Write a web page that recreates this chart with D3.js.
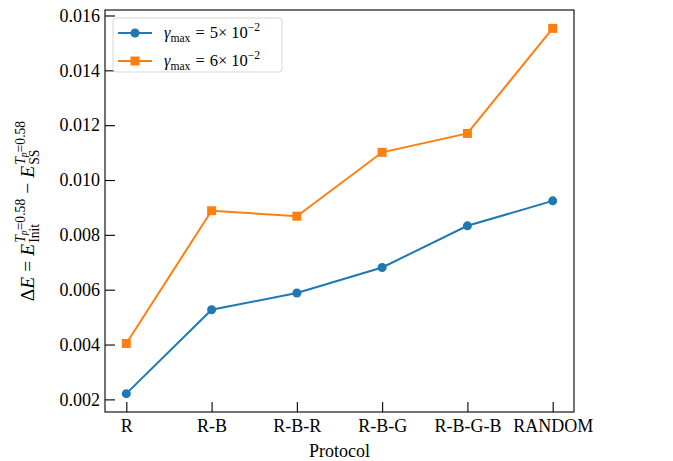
<!DOCTYPE html>
<html>
<head>
<meta charset="utf-8">
<script src="https://cdn.jsdelivr.net/npm/d3@7"></script>
<style>
  body { margin: 0; background: #fff; }
  svg { display: block; }
  text { font-family: "Liberation Serif", "DejaVu Serif", serif; fill: #000; }
</style>
</head>
<body>
<div id="graph"></div>
<script>
var protocols = ['R', 'R-B', 'R-B-R', 'R-B-G', 'R-B-G-B', 'RANDOM']
var gamma5 = [0.00221, 0.00527, 0.00588, 0.00681, 0.00833, 0.00924]
var gamma6 = [0.00404, 0.00888, 0.00868, 0.01101, 0.01170, 0.01553]
var yTicks = [0.002, 0.004, 0.006, 0.008, 0.010, 0.012, 0.014, 0.016]

var w = 673
var h = 461
var plotL = 105, plotR = 574, plotT = 10, plotB = 412
var fontSize = 18

var svg = d3.select('#graph')
	.append('svg')
	.attr('width', w)
	.attr('height', h)

var xScale = d3.scalePoint()
	.domain(protocols)
	.range([plotL, plotR])
	.padding(0.25)

var yScale = d3.scaleLinear()
	.domain([0.00154, 0.01620])
	.range([plotB, plotT])

// axes, ticks pointing inward
var xAxis = d3.axisBottom(xScale)
	.tickSizeInner(-10)
	.tickSizeOuter(0)
	.tickPadding(7)

var yAxis = d3.axisLeft(yScale)
	.tickValues(yTicks)
	.tickFormat(d3.format('.3f'))
	.tickSizeInner(-10)
	.tickSizeOuter(0)
	.tickPadding(5)

var gx = svg.append('g')
	.attr('transform', 'translate(0,' + plotB + ')')
	.call(xAxis)
var gy = svg.append('g')
	.attr('transform', 'translate(' + plotL + ',0)')
	.call(yAxis)

svg.selectAll('.domain').remove()
svg.selectAll('.tick line').attr('stroke', '#000').attr('stroke-width', 1.1)
svg.selectAll('.tick text')
	.style('font-family', '"Liberation Serif", serif')
	.style('font-size', fontSize + 'px')
	.attr('fill', '#000')

// frame
svg.append('rect')
	.attr('x', plotL)
	.attr('y', plotT)
	.attr('width', plotR - plotL)
	.attr('height', plotB - plotT)
	.attr('fill', 'none')
	.attr('stroke', '#000')
	.attr('stroke-width', 1.1)

var series = [
	{ values: gamma5, color: '#1f77b4', marker: 'circle', mant: '5' },
	{ values: gamma6, color: '#ff7f0e', marker: 'square', mant: '6' }
]

var line = d3.line()
	.x((d, i) => xScale(protocols[i]))
	.y((d) => yScale(d))

series.forEach(function(s) {
	svg.append('path')
		.datum(s.values)
		.attr('d', line)
		.attr('fill', 'none')
		.attr('stroke', s.color)
		.attr('stroke-width', 2)

	if (s.marker == 'circle') {
		svg.selectAll(null)
			.data(s.values)
			.enter()
			.append('circle')
			.attr('cx', (d, i) => xScale(protocols[i]))
			.attr('cy', (d) => yScale(d))
			.attr('r', 4.5)
			.attr('fill', s.color)
	} else {
		svg.selectAll(null)
			.data(s.values)
			.enter()
			.append('rect')
			.attr('x', (d, i) => xScale(protocols[i]) - 4.5)
			.attr('y', (d) => yScale(d) - 4.5)
			.attr('width', 9)
			.attr('height', 9)
			.attr('fill', s.color)
	}
})

// lays out a run of math pieces left to right; stacked scripts share one x
function mathText(g, parts, size) {
	var x = 0
	parts.forEach(function(p) {
		var groups = p.stack ? p.stack : [p.runs || [p]]
		var maxX = x
		groups.forEach(function(runs) {
			var cx = x
			runs.forEach(function(r) {
				cx += (r.before || 0)
				var fs = size * (r.scale || 1)
				var t = g.append('text')
					.attr('x', cx)
					.attr('y', -(r.shift || 0) * size)
					.style('font-size', fs + 'px')
					.style('font-style', r.italic ? 'italic' : 'normal')
					.text(r.text)
				cx += t.node().getComputedTextLength() + (r.after || 0)
			})
			maxX = Math.max(maxX, cx)
		})
		x = maxX
	})
	return x
}

function supTp() {
	return [
		{ text: 'T', italic: true, scale: 0.7, shift: 0.45 },
		{ text: 'p', italic: true, scale: 0.5, shift: 0.38 },
		{ text: '=0.58', scale: 0.7, shift: 0.45 }
	]
}

// y axis label
var yl = svg.append('g')
var ylInner = yl.append('g')
var ylWidth = mathText(ylInner, [
	{ text: 'Δ' },
	{ text: 'E', italic: true, after: 5 },
	{ text: '=', after: 5 },
	{ text: 'E', italic: true, after: 1 },
	{ stack: [supTp(), [{ text: 'Init', scale: 0.7, shift: -0.28 }]] },
	{ text: '−', before: 5, after: 5 },
	{ text: 'E', italic: true, after: 1 },
	{ stack: [supTp(), [{ text: 'SS', scale: 0.7, shift: -0.28 }]] }
], 19.5)
ylInner.attr('transform', 'translate(' + (-ylWidth / 2) + ',0)')
yl.attr('transform', 'translate(34,' + ((plotT + plotB) / 2) + ') rotate(-90)')

// x axis label
svg.append('text')
	.attr('x', (plotL + plotR) / 2)
	.attr('y', 457)
	.attr('text-anchor', 'middle')
	.style('font-size', fontSize + 'px')
	.text('Protocol')

// legend
var legend = svg.append('g')
legend.append('rect')
	.attr('x', 113)
	.attr('y', 18)
	.attr('width', 169)
	.attr('height', 54)
	.attr('rx', 3)
	.attr('fill', '#fff')
	.attr('fill-opacity', 0.8)
	.attr('stroke', '#d6d6d6')

series.forEach(function(s, i) {
	var ly = 33 + i * 28
	legend.append('line')
		.attr('x1', 118)
		.attr('x2', 152)
		.attr('y1', ly)
		.attr('y2', ly)
		.attr('stroke', s.color)
		.attr('stroke-width', 2)
	if (s.marker == 'circle') {
		legend.append('circle')
			.attr('cx', 135)
			.attr('cy', ly)
			.attr('r', 4.5)
			.attr('fill', s.color)
	} else {
		legend.append('rect')
			.attr('x', 130.5)
			.attr('y', ly - 4.5)
			.attr('width', 9)
			.attr('height', 9)
			.attr('fill', s.color)
	}
	var lg = legend.append('g')
		.attr('transform', 'translate(164,' + (ly + 5) + ')')
	mathText(lg, [
		{ text: 'γ', italic: true },
		{ text: 'max', scale: 0.7, shift: -0.25, after: 5 },
		{ text: '=', after: 5 },
		{ text: s.mant + '×', after: 4 },
		{ text: '10' },
		{ text: '−2', scale: 0.7, shift: 0.45 }
	], 16.5)
})
</script>
</body>
</html>
